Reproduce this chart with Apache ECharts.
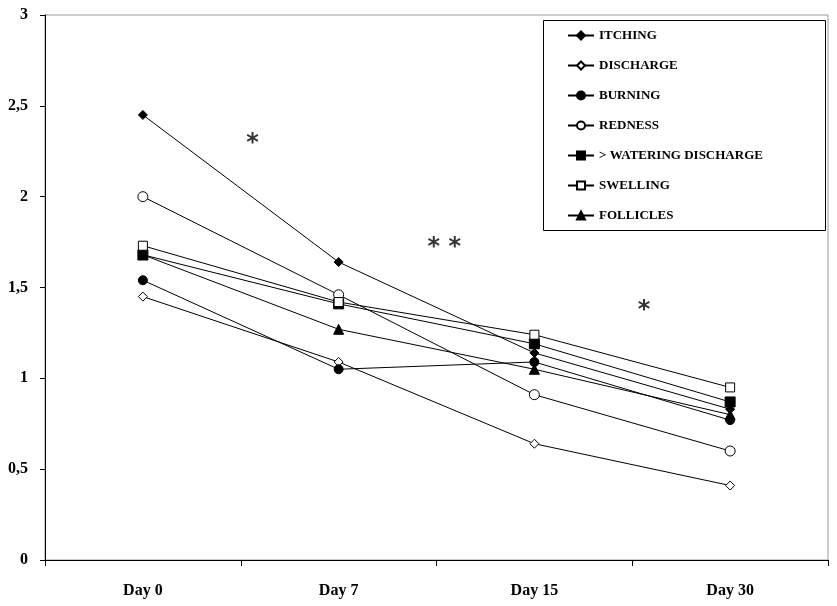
<!DOCTYPE html>
<html>
<head>
<meta charset="utf-8">
<script src="https://cdn.jsdelivr.net/npm/echarts@6/dist/echarts.min.js"></script>
<style>html,body{margin:0;padding:0;background:#fff}#c{width:837px;height:606px}</style>
</head>
<body>
<div id="c"></div>
<script>
var days = ['Day 0', 'Day 7', 'Day 15', 'Day 30'];
var itching   = [2.45, 1.64, 1.14, 0.83];
var discharge = [1.45, 1.09, 0.64, 0.41];
var burning   = [1.54, 1.05, 1.09, 0.77];
var redness   = [2.00, 1.46, 0.91, 0.60];
var watering  = [1.68, 1.41, 1.19, 0.87];
var swelling  = [1.73, 1.42, 1.24, 0.95];
var follicles = [1.68, 1.27, 1.05, 0.80];
var yTicks = [0, 0.5, 1, 1.5, 2, 2.5, 3];
// significance marks (position along the days axis as a fraction, value)
var starX = [1.06, 2.04, 3.06];
var starY = [2.29, 1.72, 1.37];
var starText = ['*', '* *', '*'];

var FONT = '"Liberation Serif", "DejaVu Serif", serif';
function mk(name, data, symbol, filled, size, z) {
  return {
    name: name, type: 'line', data: data, xAxisIndex: 0, yAxisIndex: 0,
    symbol: symbol, symbolSize: size, showSymbol: true, z: z || 2,
    lineStyle: { color: '#000', width: 1 },
    itemStyle: { color: filled ? '#000' : '#fff', borderColor: '#000', borderWidth: 1 }
  };
}
var chart = echarts.init(document.getElementById('c'), null, { renderer: 'canvas' });
var starData = starX.map(function (x, i) { return { value: [x, starY[i]], name: starText[i] }; });
chart.setOption({
  animation: false,
  backgroundColor: '#fff',
  grid: { left: 45, right: 9, top: 15, bottom: 46, show: true, borderColor: '#999', borderWidth: 1 },
  graphic: [{
    type: 'rect', left: 543, top: 20, z: 0,
    shape: { width: 282, height: 210 },
    style: { fill: 'transparent', stroke: '#000', lineWidth: 1 }
  }],
  legend: {
    orient: 'vertical', left: 567, top: 29, itemWidth: 26, itemHeight: 10, itemGap: 17,
    padding: 0,
    textStyle: { fontFamily: FONT, fontWeight: 'bold', fontSize: 13, color: '#000' },
    data: ['ITCHING', 'DISCHARGE', 'BURNING', 'REDNESS', '> WATERING DISCHARGE', 'SWELLING', 'FOLLICLES']
  },
  xAxis: [{
    type: 'category', data: days, boundaryGap: true,
    axisLine: { lineStyle: { color: '#000', width: 1 } },
    axisTick: { show: true, length: 6, lineStyle: { color: '#000' } },
    axisLabel: { fontFamily: FONT, fontWeight: 'bold', fontSize: 16, color: '#000', margin: 23 },
    splitLine: { show: false }
  }, {
    type: 'value', min: 0, max: 4, show: false
  }],
  yAxis: {
    type: 'value', min: 0, max: 3, interval: 0.5,
    axisLine: { show: true, lineStyle: { color: '#000', width: 1 } },
    axisTick: { show: true, length: 5, lineStyle: { color: '#000' } },
    axisLabel: {
      fontFamily: FONT, fontWeight: 'bold', fontSize: 16, color: '#000', margin: 17,
      formatter: function (v) { return yTicks.indexOf(v) >= 0 ? String(v).replace('.', ',') : ''; }
    },
    splitLine: { show: false }
  },
  series: [
    mk('ITCHING', itching, 'diamond', true, 9),
    mk('DISCHARGE', discharge, 'diamond', false, 9),
    mk('BURNING', burning, 'circle', true, 9),
    mk('REDNESS', redness, 'circle', false, 10),
    mk('> WATERING DISCHARGE', watering, 'rect', true, 10),
    mk('SWELLING', swelling, 'rect', false, 9),
    mk('FOLLICLES', follicles, 'triangle', true, 10, 1),
    {
      type: 'scatter', xAxisIndex: 1, yAxisIndex: 0, data: starData,
      symbol: 'circle', symbolSize: 0, silent: true,
      label: {
        show: true, position: 'inside', formatter: '{b}',
        fontFamily: '"DejaVu Sans", sans-serif', fontWeight: 'bold', fontSize: 24, color: '#000',
        textBorderWidth: 0, textBorderColor: 'transparent'
      }
    }
  ]
});
</script>
</body>
</html>
